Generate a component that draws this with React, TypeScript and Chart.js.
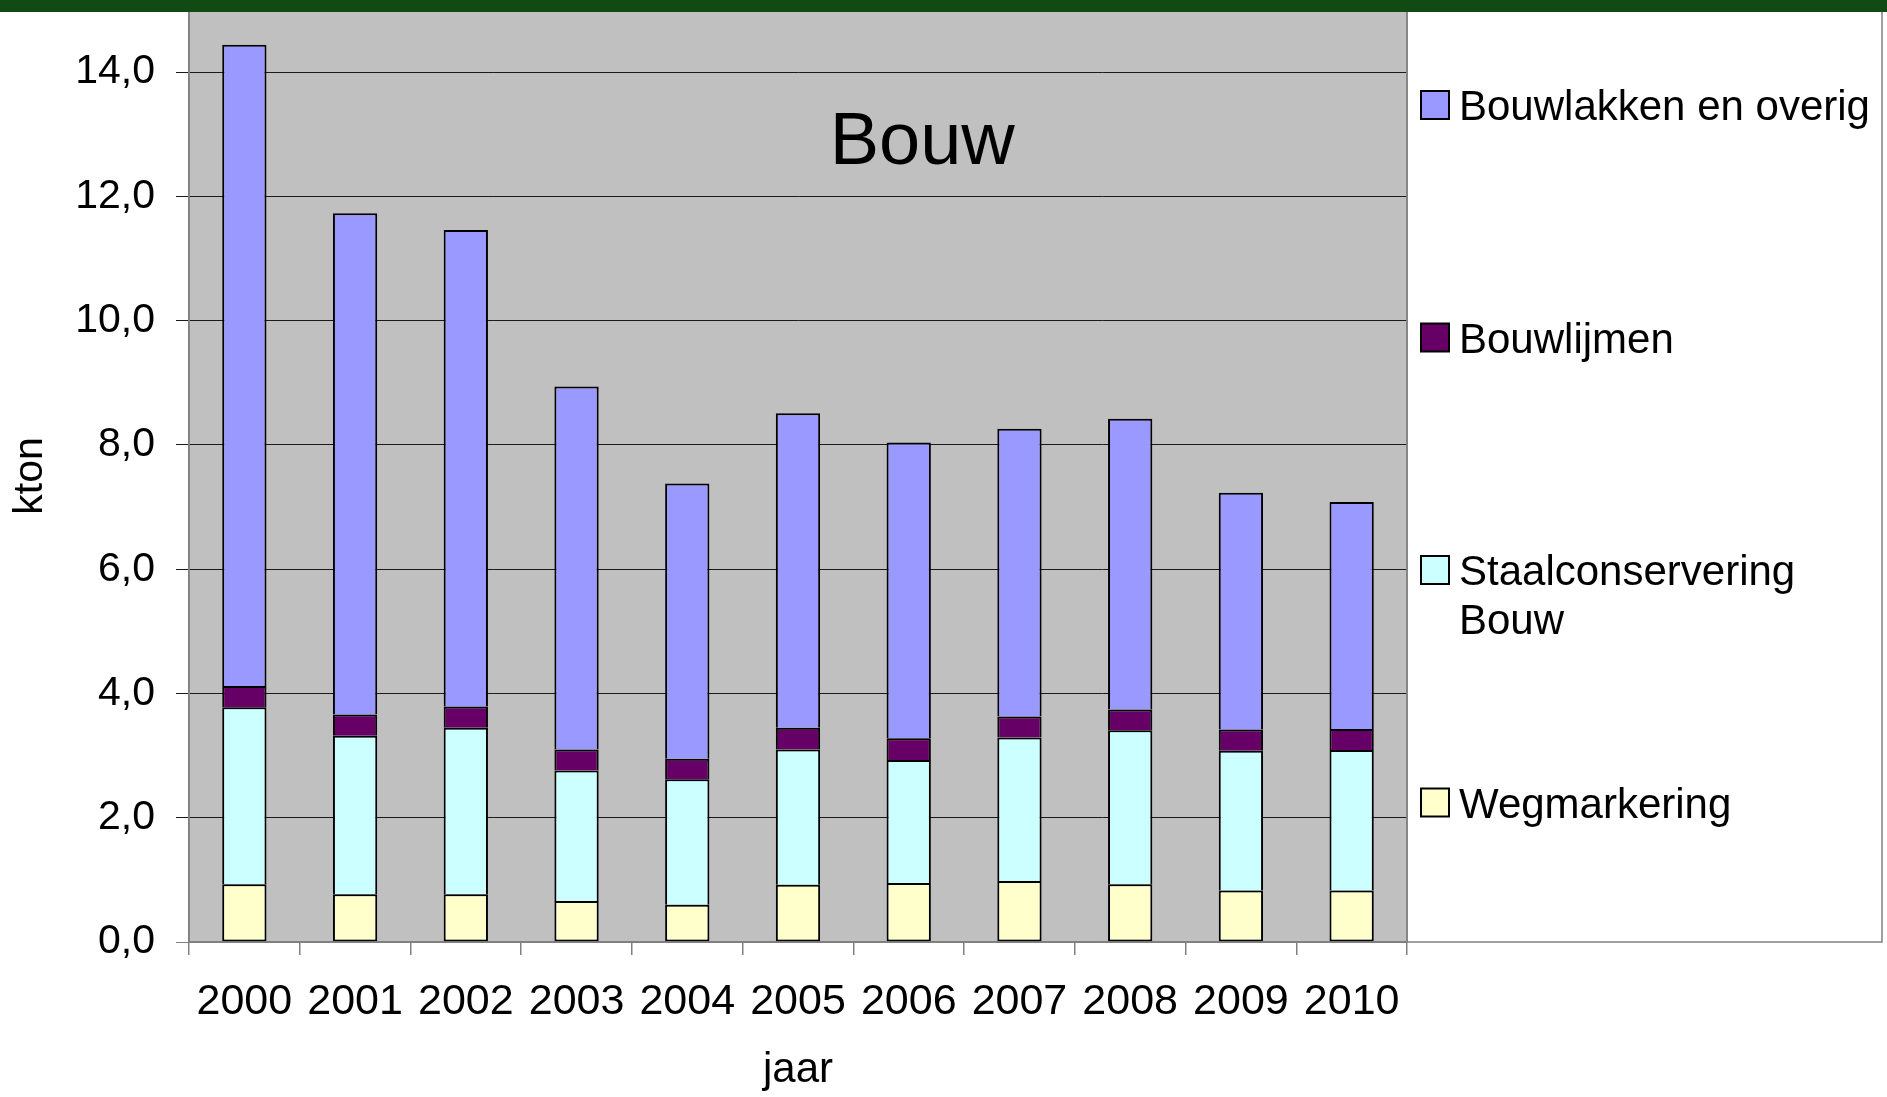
import React, { useEffect, useRef } from "react";
import { Chart, registerables } from "chart.js";

Chart.register(...registerables);

const years = ["2000", "2001", "2002", "2003", "2004", "2005", "2006", "2007", "2008", "2009", "2010"];
const wegmarkering = [0.93, 0.77, 0.77, 0.66, 0.6, 0.92, 0.95, 0.98, 0.93, 0.83, 0.83];
const staalconservering = [2.85, 2.55, 2.68, 2.1, 2.02, 2.18, 1.98, 2.31, 2.48, 2.25, 2.26];
const bouwlijmen = [0.34, 0.34, 0.34, 0.34, 0.33, 0.35, 0.35, 0.34, 0.33, 0.34, 0.34];
const bouwlakken = [10.32, 8.07, 7.67, 5.84, 4.43, 5.06, 4.76, 4.63, 4.68, 3.81, 3.65];
const seriesNames = ["Wegmarkering", "Staalconservering Bouw", "Bouwlijmen", "Bouwlakken en overig"];
const seriesColors = ["#ffffcc", "#ccffff", "#660066", "#9999ff"];
const chartTitle = "Bouw";
const yTitle = "kton";
const xTitle = "jaar";

const FONT = "'Liberation Sans', Arial, sans-serif";
const W = 1887;
const H = 1097;

const bgPlugin = {
  id: "plotBg",
  beforeDraw(chart: any) {
    const { ctx, chartArea } = chart;
    ctx.save();
    ctx.fillStyle = "#ffffff";
    ctx.fillRect(0, 0, chart.width, chart.height);
    ctx.fillStyle = "#c0c0c0";
    ctx.fillRect(chartArea.left, chartArea.top, chartArea.right - chartArea.left, chartArea.bottom - chartArea.top);
    ctx.restore();
  },
  afterDraw(chart: any) {
    const { ctx, chartArea } = chart;
    ctx.save();
    // plot border
    ctx.strokeStyle = "#808080";
    ctx.lineWidth = 1.5;
    ctx.strokeRect(chartArea.left, chartArea.top, chartArea.right - chartArea.left, chartArea.bottom - chartArea.top);
    // title inside plot
    ctx.fillStyle = "#000";
    ctx.font = `74px ${FONT}`;
    ctx.textAlign = "center";
    ctx.textBaseline = "alphabetic";
    const tx = chartArea.left + 0.602 * (chartArea.right - chartArea.left);
    ctx.fillText(chartTitle, tx, 164);

    // legend box
    const boxL = chartArea.right;
    const boxR = chart.width - 5;
    const boxT = chartArea.top;
    const boxB = chartArea.bottom;
    ctx.strokeStyle = "#808080";
    ctx.lineWidth = 1.5;
    ctx.strokeRect(boxL, boxT, boxR - boxL, boxB - boxT);

    const ds = chart.data.datasets.slice().reverse();
    ctx.font = `42px ${FONT}`;
    ctx.textAlign = "left";
    const textX = boxL + 52;
    const maxW = boxR - textX - 8;
    ds.forEach((d: any, i: number) => {
      const cy = boxT + 95 + i * 232.5;
      ctx.fillStyle = d.backgroundColor;
      ctx.fillRect(boxL + 14, cy - 14, 28, 28);
      ctx.strokeStyle = "#000";
      ctx.lineWidth = 2;
      ctx.strokeRect(boxL + 14, cy - 14, 28, 28);
      const words = String(d.label).split(" ");
      const lines: string[] = [];
      let cur = "";
      words.forEach((w) => {
        const test = cur ? cur + " " + w : w;
        if (ctx.measureText(test).width > maxW && cur) {
          lines.push(cur);
          cur = w;
        } else cur = test;
      });
      if (cur) lines.push(cur);
      ctx.fillStyle = "#000";
      lines.forEach((ln, j) => {
        ctx.fillText(ln, textX, cy + 15 + j * 49);
      });
    });
    ctx.restore();
  },
};

export default function App() {
  const canvasRef = useRef<HTMLCanvasElement | null>(null);

  useEffect(() => {
    if (!canvasRef.current) return;
    const values = [wegmarkering, staalconservering, bouwlijmen, bouwlakken];
    const chart = new Chart(canvasRef.current, {
      type: "bar",
      data: {
        labels: years,
        datasets: values.map((v, i) => ({
          label: seriesNames[i],
          data: v,
          backgroundColor: seriesColors[i],
          borderColor: "#000000",
          borderWidth: 2,
          borderSkipped: i === 0 ? false : "start",
          barPercentage: 0.4,
          categoryPercentage: 1.0,
        })),
      },
      options: {
        animation: false,
        responsive: false,
        devicePixelRatio: 1,
        layout: { padding: { left: 0, top: 10, right: W - 1407, bottom: 0 } },
        plugins: {
          legend: { display: false },
          tooltip: { enabled: false },
        },
        scales: {
          x: {
            stacked: true,
            afterFit: (scale: any) => {
              scale.height = H - 942;
              scale.paddingLeft = 0;
              scale.paddingRight = 0;
            },
            grid: {
              offset: true,
              drawOnChartArea: false,
              drawTicks: true,
              tickLength: 13,
              color: "#808080",
              lineWidth: 1.5,
            },
            border: { color: "#808080", width: 1.5 },
            ticks: {
              color: "#000",
              font: { family: FONT, size: 43 },
              padding: 21,
              maxRotation: 0,
              autoSkip: false,
            },
            title: {
              display: true,
              text: xTitle,
              color: "#000",
              font: { family: FONT, size: 42 },
              padding: { top: 0, bottom: 1 },
            },
          },
          y: {
            stacked: true,
            min: 0,
            max: 15,
            afterFit: (scale: any) => {
              scale.width = 189;
              scale.paddingTop = 0;
              scale.paddingBottom = 0;
            },
            grid: {
              color: (c: any) => (c.tick && c.tick.value === 0 ? "#808080" : "#1a1a1a"),
              lineWidth: 1,
              drawTicks: true,
              tickLength: 13,
            },
            border: { color: "#808080", width: 1.5 },
            ticks: {
              stepSize: 2,
              includeBounds: false,
              color: "#000",
              font: { family: FONT, size: 41 },
              padding: 21,
              callback: (v: any) => Number(v).toFixed(1).replace(".", ","),
            },
            title: {
              display: true,
              text: yTitle,
              color: "#000",
              font: { family: FONT, size: 41 },
              padding: { top: 6, bottom: 0 },
            },
          },
        },
      },
      plugins: [bgPlugin],
    });
    return () => chart.destroy();
  }, []);

  return (
    <div style={{ position: "absolute", left: 0, top: 0, width: W, height: H, background: "#fff" }}>
      <canvas ref={canvasRef} width={W} height={H} style={{ display: "block", width: W, height: H }} />
      <div style={{ position: "absolute", left: 0, top: 0, width: W, height: 12, background: "#114b13" }} />
    </div>
  );
}
